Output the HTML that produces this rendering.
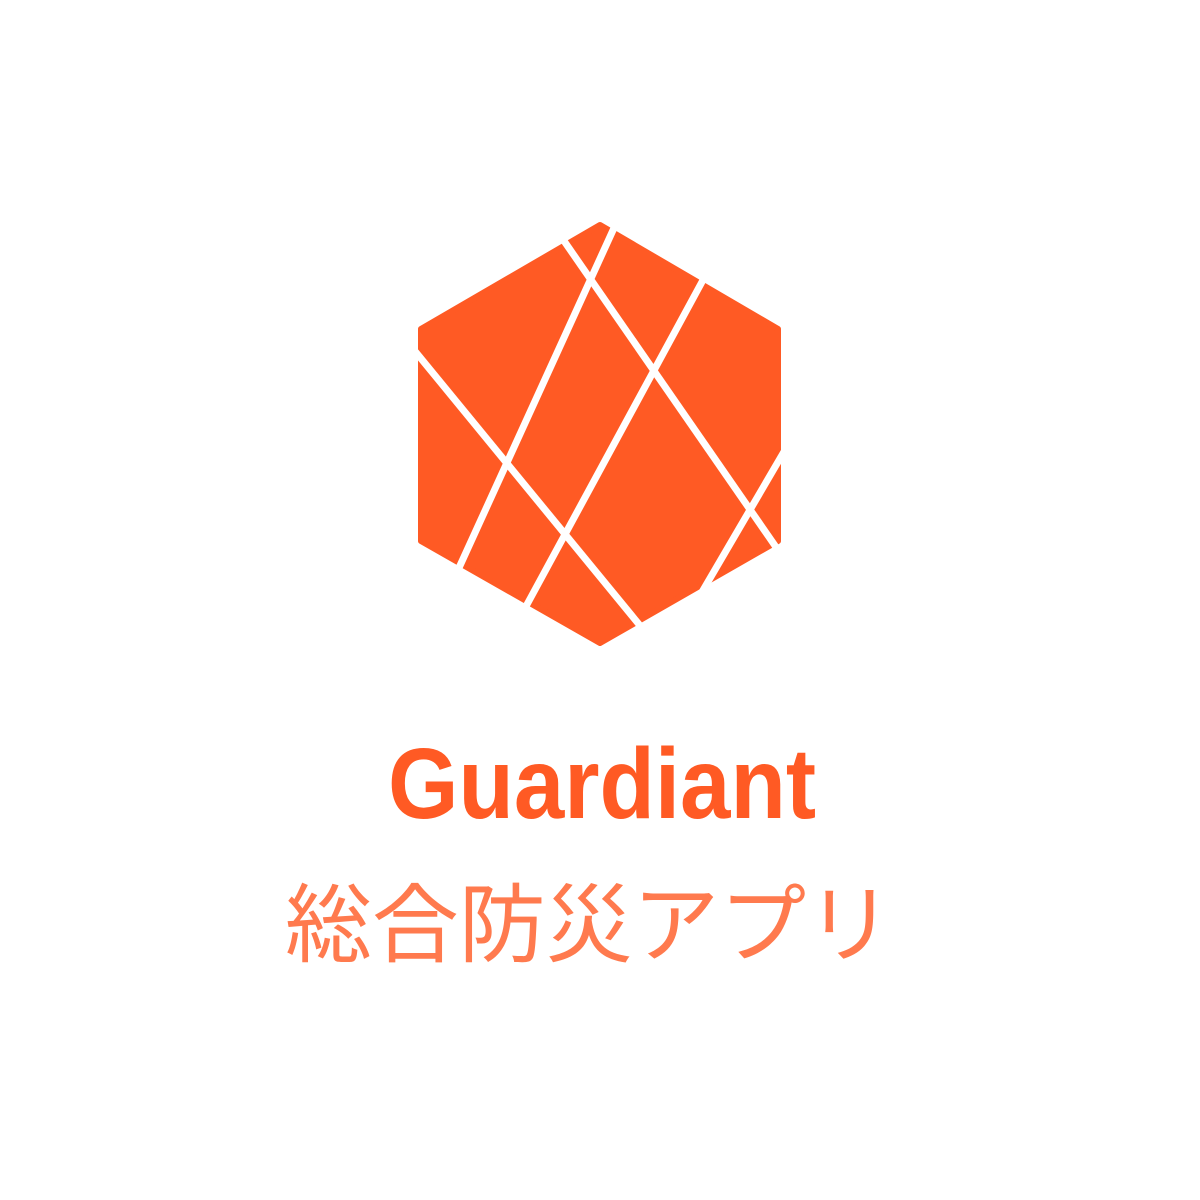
<!DOCTYPE html>
<html>
<head>
<meta charset="utf-8">
<style>
  html, body { margin: 0; padding: 0; background: #ffffff; }
  svg { display: block; }
</style>
</head>
<body>
<svg width="1200" height="1200" viewBox="0 0 1200 1200">
  <rect x="0" y="0" width="1200" height="1200" fill="#ffffff"/>
  <g>
    <polygon
      points="600,225 778,329 778,541 600,643 421,541 421,329"
      fill="#FF5A24" stroke="#FF5A24" stroke-width="6" stroke-linejoin="round"/>
    <g stroke="#ffffff" stroke-width="7" stroke-linecap="butt">
      <line x1="614" y1="228" x2="458" y2="570"/>
      <line x1="562" y1="238" x2="778" y2="550"/>
      <line x1="703" y1="280" x2="524" y2="610"/>
      <line x1="414" y1="350" x2="642" y2="628"/>
      <line x1="785" y1="450" x2="702" y2="592"/>
    </g>
  </g>
  <text x="388" y="818" textLength="428" lengthAdjust="spacingAndGlyphs"
    font-family="'Liberation Sans Narrow','Liberation Sans',sans-serif" font-weight="bold"
    font-size="100" fill="#FF5A24">Guardiant</text>
  <text x="285" y="955" textLength="608" lengthAdjust="spacingAndGlyphs"
    font-family="'Liberation Sans','Noto Sans CJK JP',sans-serif" font-weight="normal"
    font-size="86" fill="#FF7A4E">総合防災アプリ</text>
</svg>
</body>
</html>
